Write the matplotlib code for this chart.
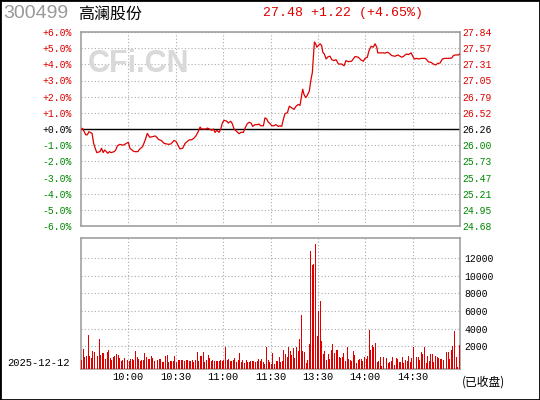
import matplotlib
matplotlib.use('Agg')
import matplotlib.pyplot as plt
import numpy as np

prev_close = 26.26

# minutes after 9:30 (lunch break cut out) and % change vs. previous close
t_min = [0, 1, 3, 4, 5, 7, 8, 9, 10, 12, 13, 14, 15, 16, 17, 18, 19, 21, 22, 23,
         24.5, 26, 27, 29, 30, 31, 33, 34, 36, 37, 39, 40, 41, 42, 43.5, 45, 47, 48, 49, 51,
         52.5, 54, 55.5, 57, 58.9, 60.2, 61.6, 62.7, 64.4, 65.9, 67.3, 68.6, 70.1, 71.6, 72.8, 74.3, 75.4, 76.4, 79.2, 80,
         81.3, 82.8, 83.8, 84.9, 86, 87.4, 88.5, 89.5, 90.6, 92.3, 93.3, 94.8, 95.8, 96.9, 98.6, 100.1, 101.3, 102.8, 103.9, 105.3,
         106.6, 107.7, 108.7, 110.2, 111.7, 112.7, 113.8, 115.5, 116.5, 117.6, 118.6, 119.7, 120.8, 122.2, 123.5, 124.9, 126, 127.1, 128.1, 129.2,
         130.7, 131.9, 133.4, 134.9, 136.2, 137.6, 138.7, 139.8, 140.4, 141.2, 142.3, 143.3, 144.6, 145.5, 146.5, 147.1, 147.8, 148.6, 149.3, 150.3,
         151.4, 152.4, 153.1, 154.1, 155.2, 156.6, 157.7, 158.8, 160.2, 161.5, 163, 165.1, 166.6, 167.8, 169.3, 171.4, 173.5, 175.6, 177.3, 178.8,
         179.9, 181.3, 182.4, 183.7, 185.1, 186.2, 187.3, 187.9, 189.4, 191.5, 192.5, 194.2, 195.7, 196.8, 198.9, 200.6, 202, 203.1, 204.1, 205.2,
         206.3, 207.3, 209, 210.1, 211.1, 212.6, 213.6, 215.8, 217.9, 218.9, 219.9, 221.7, 223.1, 224.6, 225.9, 227.4, 228.8, 230.5, 232.6, 234.8,
         235.8, 236.9, 239, 240]
pct_chg = [-0.05, 0.04, -0.36, -0.36, -0.17, -0.27, -0.88, -1.19, -1.46, -1.40, -1.19, -1.46, -1.30, -1.40, -1.50, -1.40, -1.46, -1.40, -1.30, -1.05,
           -0.95, -0.99, -0.99, -0.88, -0.82, -1.19, -1.36, -1.40, -1.40, -1.26, -1.09, -0.85, -0.58, -0.27, -0.51, -0.48, -0.43, -0.51, -0.64, -0.72,
           -0.88, -0.92, -0.95, -0.92, -0.71, -0.77, -1.04, -1.23, -1.19, -0.89, -0.77, -0.67, -0.67, -0.56, -0.42, -0.15, 0.12, 0.0, 0.0, 0.06,
           0.0, -0.08, 0.0, -0.21, -0.08, -0.21, 0.0, 0.37, 0.54, 0.48, 0.37, 0.48, 0.33, 0.0, -0.15, -0.29, -0.21, -0.21, 0.06, 0.33,
           0.42, 0.37, 0.16, 0.27, 0.27, 0.31, 0.20, 0.20, 0.69, 0.62, 0.42, 0.33, 0.20, 0.20, 0.27, 0.16, 0.20, 0.16, 0.58, 0.96,
           1.00, 1.41, 1.31, 1.21, 1.41, 1.52, 1.46, 2.14, 2.46, 2.14, 1.94, 2.08, 2.35, 2.98, 3.50, 4.33, 5.38, 5.27, 5.06, 5.16,
           5.27, 5.16, 4.75, 4.64, 4.33, 4.48, 4.50, 4.29, 4.23, 4.29, 4.02, 4.02, 3.91, 4.23, 4.16, 4.20, 4.48, 4.44, 4.27, 4.19,
           4.37, 4.44, 4.85, 5.12, 5.06, 5.27, 5.06, 4.71, 4.71, 4.71, 4.69, 4.75, 4.64, 4.54, 4.50, 4.58, 4.50, 4.44, 4.48, 4.58,
           4.64, 4.60, 4.71, 4.50, 4.33, 4.37, 4.33, 4.37, 4.37, 4.29, 4.16, 4.12, 4.02, 3.96, 4.06, 4.08, 4.33, 4.37, 4.37, 4.39,
           4.54, 4.58, 4.58, 4.65]

# one volume bar per minute
vol = [1020, 2270, 1400, 1510, 3860, 1480, 1280, 2040, 1900, 2470,
       1510, 3410, 1590, 1820, 1820, 1140, 1900, 2160, 1280, 1020,
       1360, 1480, 1700, 1590, 1250, 940, 1060, 1250, 1330, 1060,
       910, 1140, 1140, 1060, 2040, 1360, 1140, 910, 1060, 1060,
       1820, 1360, 1140, 1140, 1480, 1280, 910, 1140, 990, 1140,
       1140, 830, 830, 1480, 1590, 830, 910, 910, 910, 1480,
       830, 1020, 1020, 1020, 1020, 910, 1020, 1020, 910, 910,
       1020, 830, 1020, 1930, 910, 1480, 1480, 1930, 800, 1020,
       1590, 1280, 910, 1020, 910, 910, 910, 910, 1020, 910,
       1020, 2500, 1020, 1140, 910, 910, 1020, 1250, 830, 1020,
       1820, 830, 1060, 680, 1020, 800, 800, 910, 910, 910,
       800, 910, 1140, 910, 1140, 830, 570, 2500, 1020, 830,
       570, 1820, 570, 910, 910,
       1330, 830, 910, 2160, 1700, 1360, 2530, 2080, 1590, 2390,
       1280, 2500, 2040, 3410, 6130, 2040, 1900, 680, 1020, 2840,
       13400, 11810, 11930, 14200, 3750, 6590, 7720, 3180, 1700, 2040, 1020,
       1700, 1170, 2160, 2840, 1820, 2160, 2160, 1360, 1250, 1360,
       1820, 910, 2500, 1140, 1020, 910, 2040, 1590, 680, 1020,
       1140, 1140, 910, 1360, 1140, 1480, 4430, 2160, 2730, 2500,
       2950, 800, 910, 1360, 340, 1360, 910, 1250, 680, 800, 910,
       1360, 450, 1220, 1140, 800, 800, 1360, 680, 1020, 910,
       1480, 800, 1250, 2500, 800, 1360, 1360, 1020, 1930, 1700,
       2500, 680, 1480, 910, 1700, 1700, 800, 1480, 1360, 1250, 1140,
       1140, 1020, 1930, 1930, 1930, 1140, 2160, 2610, 4320, 1360,
       230, 2730]

pct_ticks = [6, 5, 4, 3, 2, 1, 0, -1, -2, -3, -4, -5, -6]
time_ticks = [30, 60, 90, 120, 150, 180, 210]
time_labels = ['10:00', '10:30', '11:00', '11:30', '13:30', '14:00', '14:30']
vol_grid = [2580, 4580, 6580, 8580, 10580, 12580]
vol_labels = ['2000', '4000', '6000', '8000', '10000', '12000']

RED = '#dd0000'
GREEN = '#008800'
GRID = '#aaaaaa'
SPINE = '#999999'
MONO = 'Liberation Mono'

fig = plt.figure(figsize=(5.4, 4.0), dpi=100)
fig.patch.set_facecolor('white')

ax = fig.add_axes([81/540, 1-226/400, 379/540, 194/400])
axv = fig.add_axes([81/540, 1-369/400, 379/540, 130.7/400])

def style(a):
    for s in a.spines.values():
        s.set_color(SPINE)
        s.set_linewidth(1.1)
    a.grid(True, color=GRID, linestyle=(0, (1, 2)), linewidth=0.8)
    a.set_axisbelow(True)

# price panel
style(ax)
ax.plot(t_min, pct_chg, color=RED, lw=0.9, zorder=3)
ax.axhline(0, color='black', lw=1.0, zorder=2)
ax.set_xlim(0, 240)
ax.set_ylim(-6, 6)
ax.set_xticks(time_ticks)
ax.set_xticklabels([])
ax.tick_params(axis='x', length=0)
ax.set_yticks(pct_ticks)
ax.set_yticklabels([f'{p:+.1f}%' for p in pct_ticks], fontsize=7, family=MONO)
ax.tick_params(axis='y', length=0, pad=6.5)
for lab, p in zip(ax.get_yticklabels(), pct_ticks):
    lab.set_color(RED if p > 0 else (GREEN if p < 0 else 'black'))

axr = ax.twinx()
axr.set_ylim(-6, 6)
axr.set_yticks(pct_ticks)
axr.set_yticklabels([f'{prev_close * (1 + p / 100):.2f}' for p in pct_ticks], fontsize=7, family=MONO)
axr.tick_params(axis='y', length=0, pad=1.5)
for s in axr.spines.values():
    s.set_visible(False)
for lab, p in zip(axr.get_yticklabels(), pct_ticks):
    lab.set_color(RED if p > 0 else (GREEN if p < 0 else 'black'))

ax.text(0.152, 0.835, 'CFi.CN', transform=ax.transAxes, fontsize=22, fontweight='bold',
        family='Liberation Sans', color='#d9d9d9', ha='center', va='center', zorder=1)

# volume panel
style(axv)
axv.bar(np.arange(len(vol)) + 0.5, vol, width=0.62, color=RED, linewidth=0, zorder=3)
axv.set_xlim(0, 240)
axv.set_ylim(0, 14850)
axv.set_xticks(time_ticks)
axv.set_xticklabels(time_labels, fontsize=7.5, family=MONO)
axv.tick_params(axis='x', length=0, pad=2.5)
axv.yaxis.tick_right()
axv.set_yticks(vol_grid)
axv.set_yticklabels(vol_labels, fontsize=7, family=MONO)
axv.tick_params(axis='y', length=0, pad=3)

# header and footer texts
fig.text(3/540, 1-14/400, '300499', fontsize=14, family='Liberation Sans', color='#999999', ha='left', va='center')
fig.text(78/540, 1-14/400, '高澜股份', fontsize=11.5, family=['Noto Sans CJK SC', 'DejaVu Sans'], color='black', ha='left', va='center')
fig.text(263/540, 1-13/400, '27.48 +1.22 (+4.65%)', fontsize=9.5, family=MONO, color=RED, ha='left', va='center')
fig.text(7/540, 1-363/400, '2025-12-12', fontsize=7.5, family=MONO, color='black', ha='left', va='center')
fig.text(462/540, 1-382/400, '(已收盘)', fontsize=8.5, family=['Noto Sans CJK SC', 'DejaVu Sans'], color='black', ha='left', va='center')

fig.patches.append(plt.Rectangle((0, 0), 1, 1, transform=fig.transFigure, fill=False,
                                 edgecolor='black', linewidth=2))

fig.savefig('out.png', dpi=100)
